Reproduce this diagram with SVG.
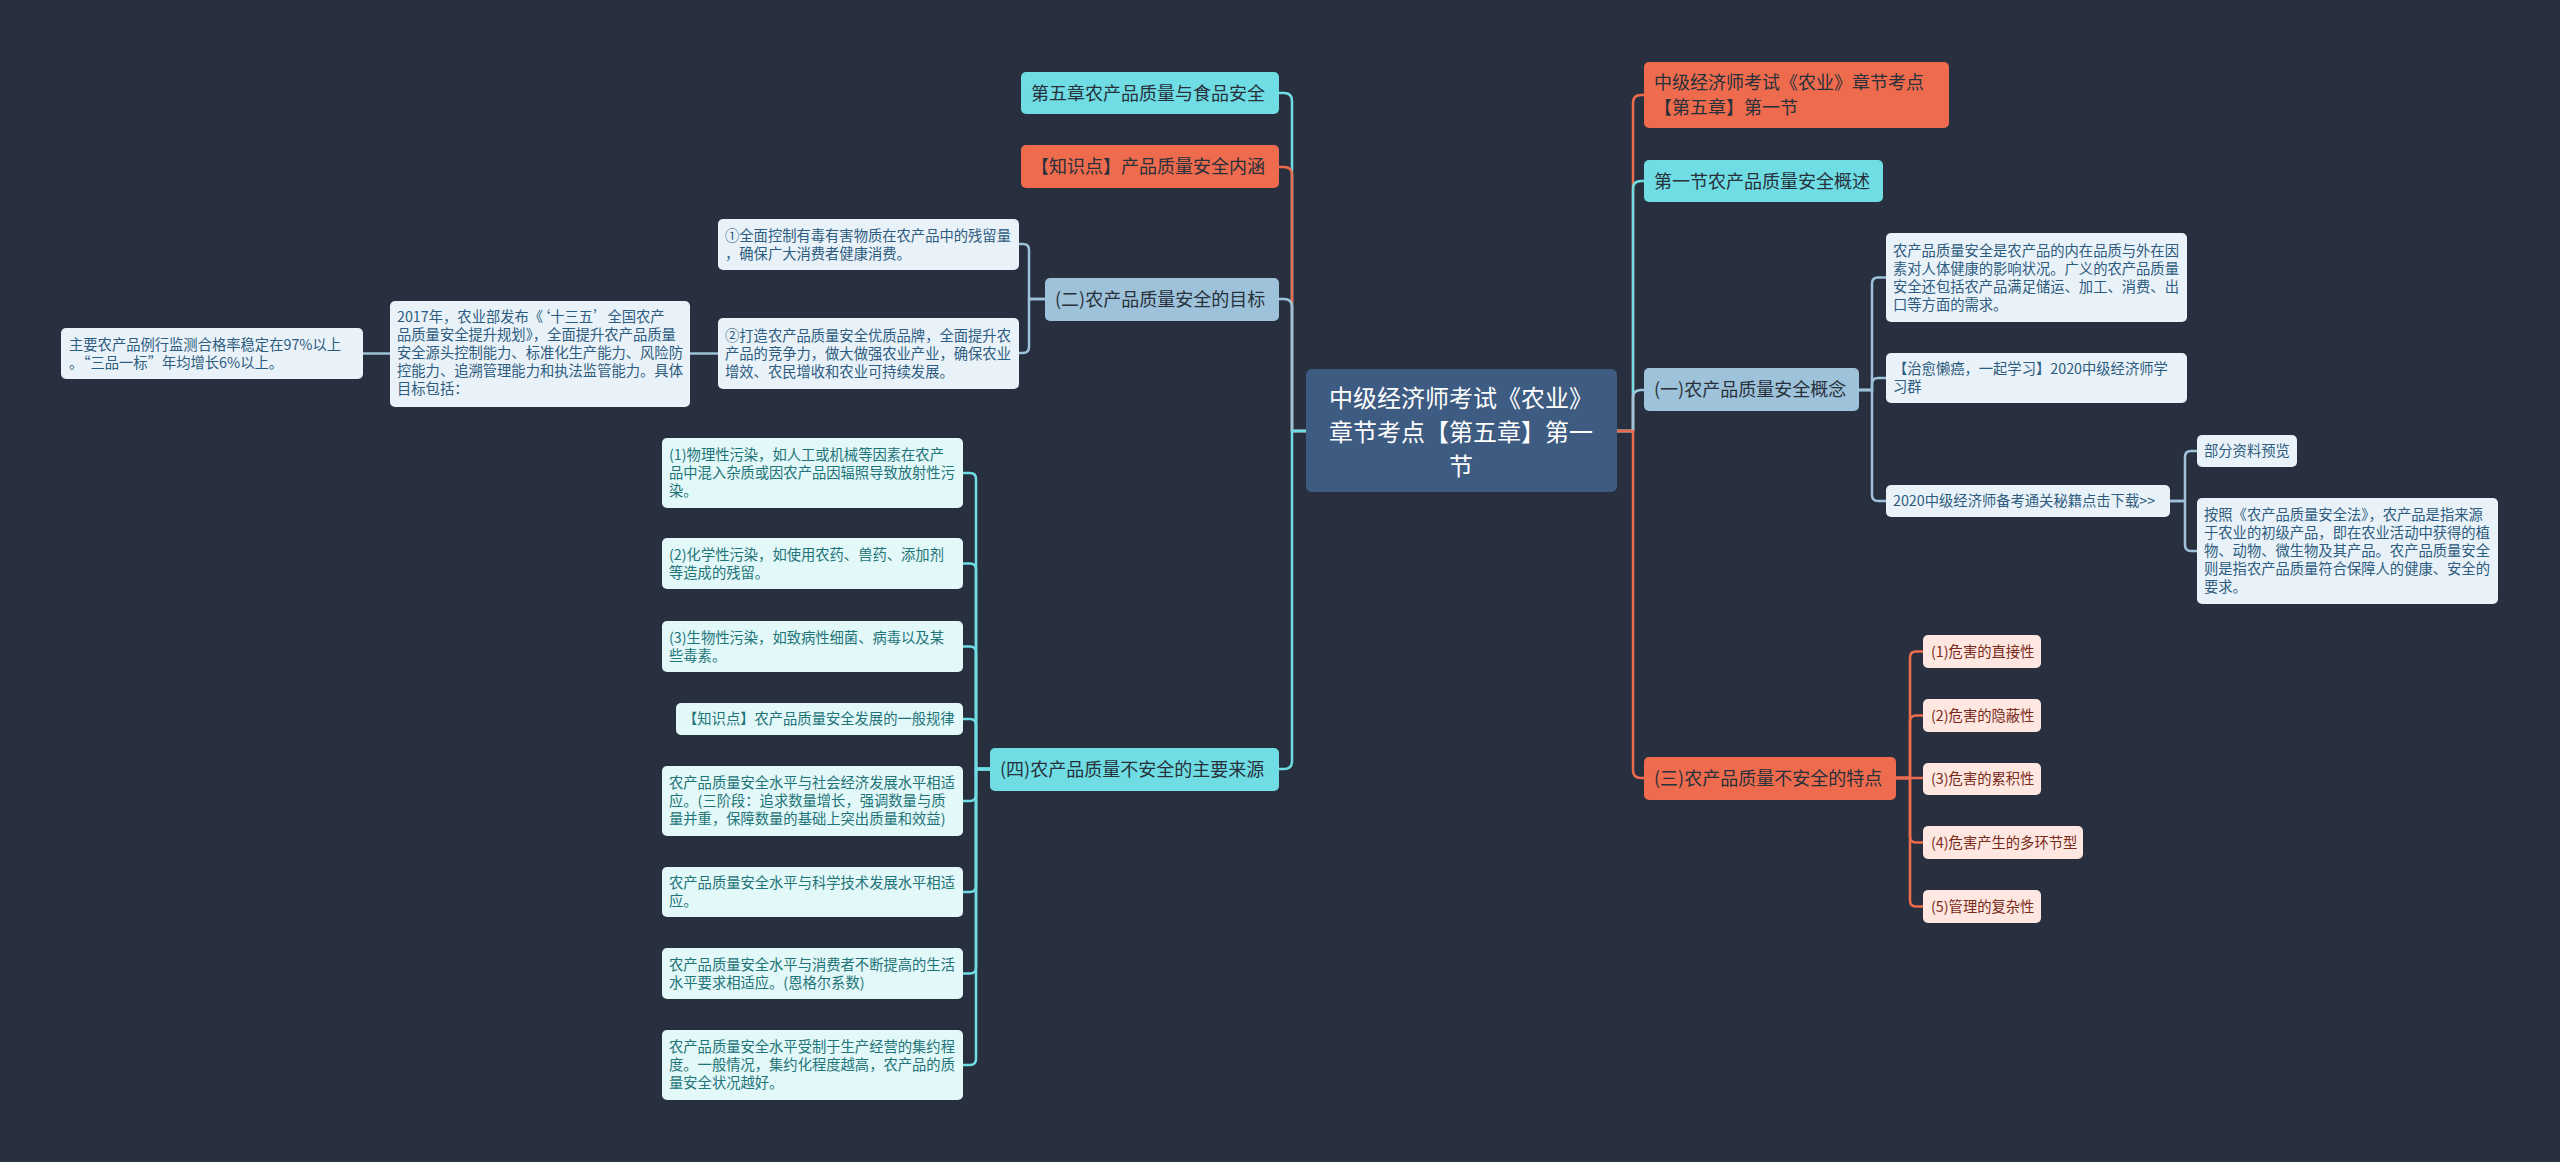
<svg xmlns="http://www.w3.org/2000/svg" width="2560" height="1162" viewBox="0 0 2560 1162">
<style>
text{font-family:"Noto Sans CJK SC","Noto Sans",sans-serif;}
.lnk{fill:none;stroke-width:2.5;stroke-linejoin:round;}
.lc{stroke:#6fdde3}.lo{stroke:#ee6b4d}.lb{stroke:#9ec2d9}
.center rect{fill:#3e5c82}
.center text{fill:#ffffff;font-size:24px;text-anchor:middle}
.cy rect{fill:#6fdde3}.or rect{fill:#ee6b4d}.bl rect{fill:#9ec2d9}
.main text{font-size:18px;fill:#27303b}
.lb-leaf rect{fill:#e9f2f8}.lb-leaf text{font-size:14.3px;fill:#2e5c80}
.cy-leaf rect{fill:#e2f8f9}.cy-leaf text{font-size:14.3px;fill:#1f7478}
.or-leaf rect{fill:#fde7e0}.or-leaf text{font-size:14.3px;fill:#7a2a1a}
</style>
<rect width="2560" height="1162" fill="#283040"/>

<g id="connectors">
<!-- left main -->
<path class="lnk lc" d="M1306 431 H1292 V101 Q1292 93 1284 93 H1279"/>
<path class="lnk lo" d="M1306 431 H1292 V175 Q1292 167 1284 167 H1279"/>
<path class="lnk lb" d="M1306 431 H1292 V307 Q1292 299 1284 299 H1279"/>
<path class="lnk lc" d="M1306 431 H1292 V761 Q1292 769 1284 769 H1279"/>
<!-- right main -->
<path class="lnk lo" d="M1617 431 H1633 V103 Q1633 95 1641 95 H1644"/>
<path class="lnk lc" d="M1617 431 H1633 V189 Q1633 181 1641 181 H1644"/>
<path class="lnk lb" d="M1617 431 H1633 V398 Q1633 390 1641 390 H1644"/>
<path class="lnk lo" d="M1617 431 H1633 V770 Q1633 778 1641 778 H1644"/>
<!-- (二) children -->
<path class="lnk lb" d="M1045 299 H1029 V250 Q1029 244 1023 244 H1019"/>
<path class="lnk lb" d="M1045 299 H1029 V347 Q1029 353 1023 353 H1019"/>
<path class="lnk lb" d="M718 353.5 H690"/>
<path class="lnk lb" d="M390 353.5 H363"/>
<!-- (四) children -->
<path class="lnk lc" d="M990 769 H976 V479 Q976 473 970 473 H963"/>
<path class="lnk lc" d="M990 769 H976 V569.5 Q976 563.5 970 563.5 H963"/>
<path class="lnk lc" d="M990 769 H976 V652.5 Q976 646.5 970 646.5 H963"/>
<path class="lnk lc" d="M990 769 H976 V725 Q976 719 970 719 H963"/>
<path class="lnk lc" d="M990 769 H976 V795 Q976 801 970 801 H963"/>
<path class="lnk lc" d="M990 769 H976 V886 Q976 892 970 892 H963"/>
<path class="lnk lc" d="M990 769 H976 V967.5 Q976 973.5 970 973.5 H963"/>
<path class="lnk lc" d="M990 769 H976 V1059 Q976 1065 970 1065 H963"/>
<!-- (一) children -->
<path class="lnk lb" d="M1859 390 H1872 V283.5 Q1872 277.5 1878 277.5 H1886"/>
<path class="lnk lb" d="M1859 390 H1872 V384 Q1872 378 1878 378 H1886"/>
<path class="lnk lb" d="M1859 390 H1872 V495 Q1872 501 1878 501 H1886"/>
<path class="lnk lb" d="M2170 501 H2185 V457 Q2185 451 2191 451 H2197"/>
<path class="lnk lb" d="M2170 501 H2185 V545 Q2185 551 2191 551 H2197"/>
<!-- (三) children -->
<path class="lnk lo" d="M1896 778 H1910 V657.5 Q1910 651.5 1916 651.5 H1923"/>
<path class="lnk lo" d="M1896 778 H1910 V721.5 Q1910 715.5 1916 715.5 H1923"/>
<path class="lnk lo" d="M1896 778 H1923"/>
<path class="lnk lo" d="M1896 778 H1910 V836.5 Q1910 842.5 1916 842.5 H1923"/>
<path class="lnk lo" d="M1896 778 H1910 V900.5 Q1910 906.5 1916 906.5 H1923"/>
</g>

<g id="n-center" class="center">
<rect x="1306" y="369" width="311" height="123" rx="6"/>
<text x="1461" y="406.5">中级经济师考试《农业》</text>
<text x="1461" y="440.5">章节考点【第五章】第一</text>
<text x="1461" y="474.5">节</text>
</g>

<!-- left main nodes -->
<g id="n-ch5" class="main cy"><rect x="1021" y="72" width="258" height="42" rx="5"/><text x="1031" y="99.5">第五章农产品质量与食品安全</text></g>
<g id="n-zsd" class="main or"><rect x="1021" y="145" width="258" height="43" rx="5"/><text x="1031" y="173">【知识点】产品质量安全内涵</text></g>
<g id="n-er" class="main bl"><rect x="1045" y="278" width="234" height="43" rx="5"/><text x="1055" y="306">(二)农产品质量安全的目标</text></g>
<g id="n-si" class="main cy"><rect x="990" y="748" width="289" height="43" rx="5"/><text x="1000" y="776">(四)农产品质量不安全的主要来源</text></g>

<!-- (二) leaves -->
<g id="n-er-1" class="lb-leaf"><rect x="718" y="219" width="301" height="51" rx="5"/>
<text x="725" y="240.5">①全面控制有毒有害物质在农产品中的残留量</text>
<text x="725" y="258.5">，确保广大消费者健康消费。</text></g>
<g id="n-er-2" class="lb-leaf"><rect x="718" y="318" width="301" height="71" rx="5"/>
<text x="725" y="340.5">②打造农产品质量安全优质品牌，全面提升农</text>
<text x="725" y="358.5">产品的竞争力，做大做强农业产业，确保农业</text>
<text x="725" y="376.5">增效、农民增收和农业可持续发展。</text></g>
<g id="n-2017" class="lb-leaf"><rect x="390" y="301" width="300" height="106" rx="5"/>
<text x="397" y="322">2017年，农业部发布《‘十三五’全国农产</text>
<text x="397" y="340">品质量安全提升规划》，全面提升农产品质量</text>
<text x="397" y="358">安全源头控制能力、标准化生产能力、风险防</text>
<text x="397" y="376">控能力、追溯管理能力和执法监管能力。具体</text>
<text x="397" y="394">目标包括：</text></g>
<g id="n-97" class="lb-leaf"><rect x="61" y="328" width="302" height="51" rx="5"/>
<text x="69" y="349.5">主要农产品例行监测合格率稳定在97%以上</text>
<text x="69" y="367.5">。“三品一标”年均增长6%以上。</text></g>

<!-- (四) leaves -->
<g id="n-si-1" class="cy-leaf"><rect x="662" y="438" width="301" height="70" rx="5"/>
<text x="669" y="460">(1)物理性污染，如人工或机械等因素在农产</text>
<text x="669" y="478">品中混入杂质或因农产品因辐照导致放射性污</text>
<text x="669" y="496">染。</text></g>
<g id="n-si-2" class="cy-leaf"><rect x="662" y="538" width="301" height="51" rx="5"/>
<text x="669" y="559.5">(2)化学性污染，如使用农药、兽药、添加剂</text>
<text x="669" y="577.5">等造成的残留。</text></g>
<g id="n-si-3" class="cy-leaf"><rect x="662" y="621" width="301" height="51" rx="5"/>
<text x="669" y="642.5">(3)生物性污染，如致病性细菌、病毒以及某</text>
<text x="669" y="660.5">些毒素。</text></g>
<g id="n-si-4" class="cy-leaf"><rect x="676" y="703" width="287" height="32" rx="5"/>
<text x="683" y="724">【知识点】农产品质量安全发展的一般规律</text></g>
<g id="n-si-5" class="cy-leaf"><rect x="662" y="766" width="301" height="70" rx="5"/>
<text x="669" y="788">农产品质量安全水平与社会经济发展水平相适</text>
<text x="669" y="806">应。(三阶段：追求数量增长，强调数量与质</text>
<text x="669" y="824">量并重，保障数量的基础上突出质量和效益)</text></g>
<g id="n-si-6" class="cy-leaf"><rect x="662" y="867" width="301" height="50" rx="5"/>
<text x="669" y="888">农产品质量安全水平与科学技术发展水平相适</text>
<text x="669" y="906">应。</text></g>
<g id="n-si-7" class="cy-leaf"><rect x="662" y="948" width="301" height="51" rx="5"/>
<text x="669" y="969.5">农产品质量安全水平与消费者不断提高的生活</text>
<text x="669" y="987.5">水平要求相适应。(恩格尔系数)</text></g>
<g id="n-si-8" class="cy-leaf"><rect x="662" y="1030" width="301" height="70" rx="5"/>
<text x="669" y="1052">农产品质量安全水平受制于生产经营的集约程</text>
<text x="669" y="1070">度。一般情况，集约化程度越高，农产品的质</text>
<text x="669" y="1088">量安全状况越好。</text></g>

<!-- right main nodes -->
<g id="n-title" class="main or"><rect x="1644" y="62" width="305" height="66" rx="5"/>
<text x="1654" y="89">中级经济师考试《农业》章节考点</text>
<text x="1654" y="114">【第五章】第一节</text></g>
<g id="n-s1" class="main cy"><rect x="1644" y="160" width="239" height="42" rx="5"/><text x="1654" y="187.5">第一节农产品质量安全概述</text></g>
<g id="n-yi" class="main bl"><rect x="1644" y="368" width="215" height="43" rx="5"/><text x="1654" y="396">(一)农产品质量安全概念</text></g>
<g id="n-san" class="main or"><rect x="1644" y="757" width="252" height="43" rx="5"/><text x="1654" y="785">(三)农产品质量不安全的特点</text></g>

<!-- (一) leaves -->
<g id="n-yi-1" class="lb-leaf"><rect x="1886" y="233" width="301" height="89" rx="5"/>
<text x="1893" y="255.5">农产品质量安全是农产品的内在品质与外在因</text>
<text x="1893" y="273.5">素对人体健康的影响状况。广义的农产品质量</text>
<text x="1893" y="291.5">安全还包括农产品满足储运、加工、消费、出</text>
<text x="1893" y="309.5">口等方面的需求。</text></g>
<g id="n-yi-2" class="lb-leaf"><rect x="1886" y="353" width="301" height="50" rx="5"/>
<text x="1893" y="374">【治愈懒癌，一起学习】2020中级经济师学</text>
<text x="1893" y="392">习群</text></g>
<g id="n-yi-3" class="lb-leaf"><rect x="1886" y="485" width="284" height="32" rx="5"/>
<text x="1893" y="506">2020中级经济师备考通关秘籍点击下载&gt;&gt;</text></g>
<g id="n-yi-3-1" class="lb-leaf"><rect x="2197" y="435" width="100" height="32" rx="5"/>
<text x="2204" y="456">部分资料预览</text></g>
<g id="n-yi-3-2" class="lb-leaf"><rect x="2197" y="498" width="301" height="106" rx="5"/>
<text x="2204" y="520">按照《农产品质量安全法》，农产品是指来源</text>
<text x="2204" y="538">于农业的初级产品，即在农业活动中获得的植</text>
<text x="2204" y="556">物、动物、微生物及其产品。农产品质量安全</text>
<text x="2204" y="574">则是指农产品质量符合保障人的健康、安全的</text>
<text x="2204" y="592">要求。</text></g>

<!-- (三) leaves -->
<g id="n-san-1" class="or-leaf"><rect x="1923" y="635" width="118" height="33" rx="5"/><text x="1931" y="656.5">(1)危害的直接性</text></g>
<g id="n-san-2" class="or-leaf"><rect x="1923" y="699" width="118" height="33" rx="5"/><text x="1931" y="720.5">(2)危害的隐蔽性</text></g>
<g id="n-san-3" class="or-leaf"><rect x="1923" y="763" width="118" height="32" rx="5"/><text x="1931" y="784">(3)危害的累积性</text></g>
<g id="n-san-4" class="or-leaf"><rect x="1923" y="826" width="160" height="33" rx="5"/><text x="1931" y="847.5">(4)危害产生的多环节型</text></g>
<g id="n-san-5" class="or-leaf"><rect x="1923" y="890" width="118" height="33" rx="5"/><text x="1931" y="911.5">(5)管理的复杂性</text></g>
</svg>
